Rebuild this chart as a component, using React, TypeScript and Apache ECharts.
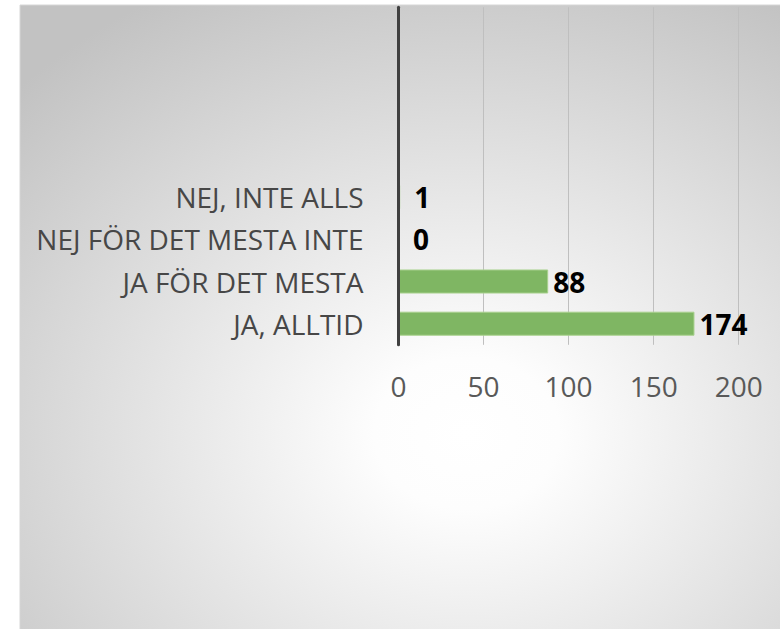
import React, { useEffect, useRef } from "react";
import * as echarts from "echarts";

// Categories bottom-to-top; blank entries are the empty slots above the data
const categories = ["JA, ALLTID", "JA FÖR DET MESTA", "NEJ FÖR DET MESTA INTE", "NEJ, INTE ALLS", "", "", "", ""];
const values: (number | null)[] = [174, 88, 0, 1, null, null, null, null];
const xTicks = { min: 0, max: 200, interval: 50 };

export default function App() {
  const ref = useRef<HTMLDivElement>(null);
  useEffect(() => {
    if (!ref.current) return;
    const chart = echarts.init(ref.current, undefined, { renderer: "svg" });
    const font = "'Open Sans', 'Noto Sans', sans-serif";
    chart.setOption({
      animation: false,
      graphic: [
        {
          type: "rect",
          z: -10,
          silent: true,
          shape: { x: 20, y: 5, width: 770, height: 630 },
          style: {
            fill: new echarts.graphic.RadialGradient(0.58, 0.68, 0.8, [
              { offset: 0, color: "#ffffff" },
              { offset: 0.15, color: "#fdfdfd" },
              { offset: 1, color: "#c2c2c2" },
            ]),
            stroke: "#d6d6d6",
            lineWidth: 1,
          },
        },
      ],
      grid: { left: 398.5, right: 41.3, top: 7.2, bottom: 284.2, containLabel: false },
      xAxis: {
        type: "value",
        min: xTicks.min,
        max: xTicks.max,
        interval: xTicks.interval,
        axisLine: { show: false },
        axisTick: { show: false },
        splitLine: { show: true, lineStyle: { color: "#bfbfbf", width: 1 } },
        axisLabel: { color: "#595959", fontFamily: font, fontSize: 28, margin: 27 },
      },
      yAxis: {
        type: "category",
        data: categories,
        z: 5,
        axisLine: { show: true, lineStyle: { color: "#404040", width: 3 } },
        axisTick: { show: false },
        splitLine: { show: false },
        axisLabel: { color: "#474747", fontFamily: font, fontSize: 28, margin: 35 },
      },
      series: [
        {
          type: "bar",
          data: values.map((v) =>
            v !== null && v < 5 ? { value: v, label: { offset: [9, 0] } } : v
          ),
          barCategoryGap: "43%",
          itemStyle: { color: "#7fb663", borderColor: "#a9d18e", borderWidth: 1 },
          label: {
            show: true,
            position: "right",
            distance: 5,
            color: "#000000",
            fontFamily: font,
            fontWeight: "bold",
            fontSize: 28,
          },
        },
      ],
    });
    return () => chart.dispose();
  }, []);
  return (
    <div
      ref={ref}
      style={{ position: "absolute", left: 0, top: 0, width: 780, height: 629, background: "#ffffff" }}
    />
  );
}
